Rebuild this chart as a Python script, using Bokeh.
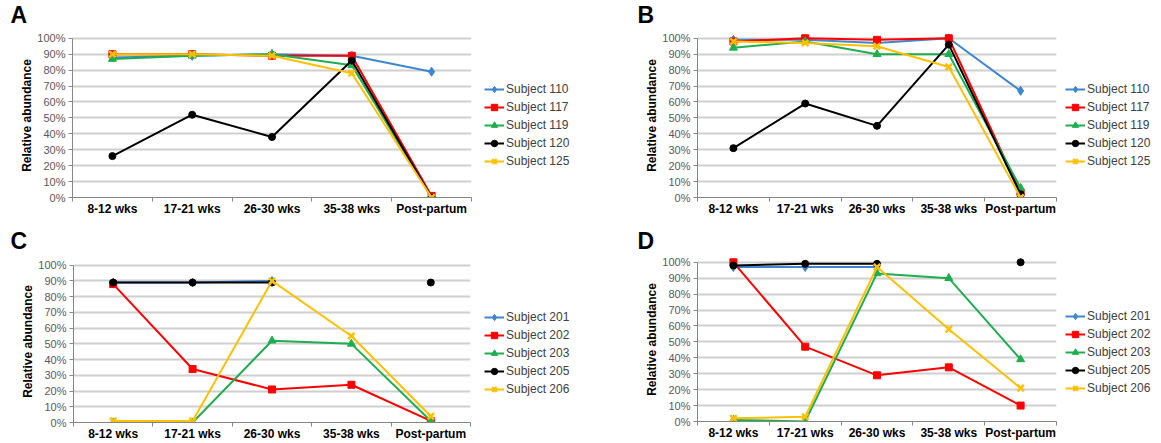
import numpy as np
from bokeh.plotting import figure
from bokeh.models import Range1d, FixedTicker, Legend, LegendItem, Label
from bokeh.layouts import column, row
from bokeh.embed import file_html
from bokeh.resources import INLINE

nan = np.nan

categories = ["8-12 wks", "17-21 wks", "26-30 wks", "35-38 wks", "Post-partum"]
y_ticks = [0, 10, 20, 30, 40, 50, 60, 70, 80, 90, 100]

# Panel A
a_names = ["Subject 110", "Subject 117", "Subject 119", "Subject 120", "Subject 125"]
a_110 = [88, 89, 90, 89, 79]
a_117 = [90, 90, 89, 89, 1]
a_119 = [87, 89, 90, 83, 0]
a_120 = [26, 52, 38, 86, 0]
a_125 = [90, 90, 89, 78, 0]

# Panel B
b_names = ["Subject 110", "Subject 117", "Subject 119", "Subject 120", "Subject 125"]
b_110 = [99, 99, 97, 100, 67]
b_117 = [98, 100, 99, 100, 3]
b_119 = [94, 98, 90, 90, 6]
b_120 = [31, 59, 45, 96, 2]
b_125 = [98, 97, 95, 82, 0]

# Panel C
c_names = ["Subject 201", "Subject 202", "Subject 203", "Subject 205", "Subject 206"]
c_201 = [89, 89, 90, nan, nan]
c_202 = [88, 34, 21, 24, 1]
c_203 = [0, 0, 52, 50, 1]
c_205 = [89, 89, 89, nan, 89]
c_206 = [1, 1, 90, 55, 4]

# Panel D
d_names = ["Subject 201", "Subject 202", "Subject 203", "Subject 205", "Subject 206"]
d_201 = [97, 97, 97, nan, nan]
d_202 = [100, 47, 29, 34, 10]
d_203 = [1, 0, 93, 90, 39]
d_205 = [98, 99, 99, nan, 100]
d_206 = [2, 3, 97, 58, 21]

colors = ["#3d87cf", "#ff0000", "#1fae4f", "#000000", "#ffc000"]
markers = ["diamond", "square", "triangle", "circle", "x"]
msizes = [9, 7, 8, 7, 9]

FONT = "Liberation Sans"
Y_TOP = 103  # a little headroom above 100% so markers at 100% are not cut


def blank_fig(width, height, xr=(0, 1), yr=(0, 1)):
    f = figure(width=width, height=height, output_backend="svg", toolbar_location=None,
               x_axis_location=None, y_axis_location=None,
               min_border=0, x_range=Range1d(*xr), y_range=Range1d(*yr))
    f.outline_line_color = None
    f.xgrid.visible = False
    f.ygrid.visible = False
    f.background_fill_color = "white"
    f.border_fill_color = "white"
    return f


def add_series(p, names, series, xs):
    items = []
    for name, vals, col, mk, ms in zip(names, series, colors, markers, msizes):
        vals = np.array(vals, dtype=float)
        lr = p.line(xs, vals, line_color=col, line_width=2)
        if mk == "x":
            sr = p.scatter(xs, vals, marker=mk, size=ms, line_color=col, line_width=2.5)
        else:
            sr = p.scatter(xs, vals, marker=mk, size=ms, fill_color=col, line_color=col)
        items.append(LegendItem(label=name, renderers=[lr, sr]))
    return items


def make_panel(letter, names, series, total_w, top_h, main_w, main_h, left, fw, top, fh,
               letter_xy, legend_xy):
    n = len(categories)
    xs = np.arange(n) + 0.5

    # letter strip
    lf = blank_fig(total_w, top_h)
    lf.add_layout(Label(x=letter_xy[0], y=letter_xy[1], x_units="screen", y_units="screen",
                        text=letter, text_font=FONT, text_font_style="bold",
                        text_font_size="23px", text_color="#000000"))

    # main chart (frame grown upward to hold the headroom above 100%)
    fh_full = int(round(fh * Y_TOP / 100.0))
    top_b = top - (fh_full - fh)
    p = figure(width=main_w, height=main_h, output_backend="svg", toolbar_location=None,
               x_range=Range1d(0, n), y_range=Range1d(0, Y_TOP),
               min_border_left=left, min_border_right=main_w - left - fw,
               min_border_top=top_b, min_border_bottom=main_h - top - fh)
    p.outline_line_color = None
    p.background_fill_color = "white"
    p.border_fill_color = "white"

    add_series(p, names, series, xs)

    xa = p.xaxis[0]
    xa.ticker = FixedTicker(ticks=list(xs), minor_ticks=list(range(n + 1)))
    xa.major_label_overrides = {float(x): c for x, c in zip(xs, categories)}
    xa.major_tick_line_color = None
    xa.major_tick_out = 0
    xa.major_tick_in = 0
    xa.minor_tick_line_color = "#868686"
    xa.minor_tick_in = 0
    xa.minor_tick_out = 4
    xa.axis_line_color = "#868686"
    xa.major_label_text_font = FONT
    xa.major_label_text_font_style = "bold"
    xa.major_label_text_font_size = "12px"
    xa.major_label_text_color = "#000000"
    xa.major_label_standoff = 0
    p.xgrid.grid_line_color = None

    ya = p.yaxis[0]
    ya.ticker = FixedTicker(ticks=y_ticks, minor_ticks=[])
    ya.bounds = (y_ticks[0], y_ticks[-1])
    ya.major_label_overrides = {t: f"{t}%" for t in y_ticks}
    ya.major_tick_line_color = "#868686"
    ya.major_tick_in = 0
    ya.major_tick_out = 4
    ya.minor_tick_line_color = None
    ya.axis_line_color = "#868686"
    ya.major_label_text_font = FONT
    ya.major_label_text_font_size = "11px"
    ya.major_label_text_color = "#595959"
    ya.major_label_standoff = 3
    ya.axis_label = "Relative abundance"
    ya.axis_label_text_font = FONT
    ya.axis_label_text_font_style = "bold"
    ya.axis_label_text_font_size = "12px"
    ya.axis_label_text_color = "#000000"
    ya.axis_label_standoff = 0
    p.ygrid.grid_line_color = "#cfcfcf"
    p.ygrid.grid_line_width = 2

    # legend strip: same series, drawn outside its visible range so only swatches show
    gf = blank_fig(total_w - main_w, main_h, xr=(100, 101), yr=(0, 100))
    items = add_series(gf, names, series, xs)
    legend = Legend(items=items, location=legend_xy, border_line_color=None,
                    background_fill_alpha=0, padding=0, margin=0, spacing=2,
                    glyph_width=20, glyph_height=16, label_height=16, label_standoff=2,
                    label_text_font=FONT, label_text_font_size="12px",
                    label_text_color="#404040")
    gf.add_layout(legend)

    return column(lf, row(p, gf, spacing=0), spacing=0)


pA = make_panel("A", a_names, [a_110, a_117, a_119, a_120, a_125],
                580, 30, 473, 192, 72, 399, 8, 159, (10, 3), (11, 28))
pB = make_panel("B", b_names, [b_110, b_117, b_119, b_120, b_125],
                581, 30, 478, 192, 117, 359, 8, 159, (57, 3), (7, 28))
pC = make_panel("C", c_names, [c_201, c_202, c_203, c_205, c_206],
                580, 32, 473, 189, 73, 397, 11, 158, (10, 1), (11, 25))
pD = make_panel("D", d_names, [d_201, d_202, d_203, d_205, d_206],
                581, 32, 478, 189, 117, 359, 8, 159, (57, 1), (7, 25))

layout = column(row(pA, pB, spacing=0), row(pC, pD, spacing=0), spacing=0)
open("out.html", "w").write(file_html(layout, INLINE))
